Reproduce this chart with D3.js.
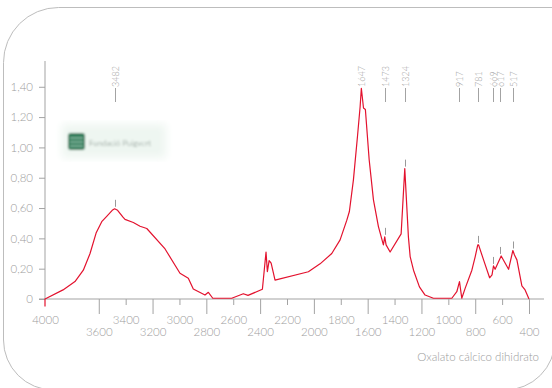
<!DOCTYPE html>
<html>
<head>
<meta charset="utf-8">
<script src="https://cdn.jsdelivr.net/npm/d3@7"></script>
<style>
  body { margin: 0; background: #fff; }
  svg text { font-family: Lato, "Open Sans", sans-serif; font-weight: 300; }
</style>
</head>
<body>
<script>
const width = 552;
const height = 388;

// espectro IR (numero de onda, absorbancia)
const wavenumbers = [4000, 4000, 3866, 3777, 3715, 3665, 3620, 3578, 3541, 3500, 3482, 3460, 3420, 3405,
  3343, 3293, 3243, 3107, 2996, 2934, 2897, 2810, 2785, 2752, 2611, 2525, 2490, 2383, 2356, 2346,
  2333, 2318, 2289, 2041, 1954, 1867, 1805, 1755, 1736, 1706, 1676, 1656, 1647, 1631, 1617, 1589,
  1557, 1520, 1483, 1473, 1463, 1433, 1351, 1324, 1297, 1284, 1259, 1215, 1173, 1111, 974, 937,
  917, 900, 875, 825, 800, 781, 775, 738, 693, 675, 664, 652, 607, 552, 520, 508, 490, 453, 429, 400];
const absorbance = [-0.05, 0, 0.06, 0.115, 0.19, 0.30, 0.435, 0.51, 0.545, 0.585, 0.595, 0.585, 0.54, 0.525,
  0.505, 0.48, 0.465, 0.33, 0.17, 0.137, 0.066, 0.026, 0.044, 0.005, 0.005, 0.035, 0.024, 0.064, 0.31, 0.18,
  0.253, 0.236, 0.125, 0.18, 0.232, 0.30, 0.39, 0.52, 0.577, 0.786, 1.07, 1.27, 1.39, 1.26, 1.25, 0.92,
  0.654, 0.478, 0.357, 0.41, 0.357, 0.31, 0.43, 0.86, 0.41, 0.28, 0.19, 0.08, 0.026, 0.005, 0.005, 0.048,
  0.115, 0.005, 0.07, 0.19, 0.28, 0.357, 0.357, 0.258, 0.14, 0.159, 0.218, 0.196, 0.284, 0.196, 0.32, 0.29, 0.258, 0.086, 0.06, 0];

const peaks = [3482, 1647, 1473, 1324, 917, 781, 669, 617, 517];
const peakMarked = [true, false, true, true, false, true, true, true, true];

const yTicks = [0, 0.2, 0.4, 0.6, 0.8, 1.0, 1.2, 1.4];
const xTicksUpper = [4000, 3400, 3000, 2600, 2200, 1800, 1400, 1000, 600];
const xTicksLower = [3600, 3200, 2800, 2400, 2000, 1600, 1200, 800, 400];
const title = 'Oxalato cálcico dihidrato';

const data = wavenumbers.map((w, i) => ({w: w, a: absorbance[i]}));

const svg = d3.select('body')
  .append('svg')
  .attr('width', width)
  .attr('height', height);

const defs = svg.append('defs');
defs.append('filter').attr('id', 'blur')
  .append('feGaussianBlur').attr('stdDeviation', 1.1);
defs.append('filter').attr('id', 'blur2')
  .append('feGaussianBlur').attr('stdDeviation', 4);

// marco: esquinas redondeadas salvo la superior derecha (fuera de la imagen)
const frame = d3.path();
const L = 3.5, T = 7.5, R = 555, B = 390, r1 = 55, r2 = 50;
frame.moveTo(L + r1, T);
frame.lineTo(R + 20, T);
frame.moveTo(R, T + 30);
frame.lineTo(R, B - r2);
frame.arcTo(R, B, R - r2, B, r2);
frame.lineTo(L + r2, B);
frame.arcTo(L, B, L, B - r2, r2);
frame.lineTo(L, T + r1);
frame.arcTo(L, T, L + r1, T, r1);
svg.append('path')
  .attr('d', frame.toString())
  .attr('fill', 'none')
  .attr('stroke', '#bdbdbd')
  .attr('stroke-width', 1);

const x = d3.scaleLinear().domain([4000, 400]).range([45, 529]);
const y = d3.scaleLinear().domain([0, 1.57]).range([299, 61]);

// marca de agua (logo difuminado)
const logo = svg.append('g').attr('filter', 'url(#blur)');
logo.append('rect').attr('x', 62).attr('y', 124).attr('width', 104).attr('height', 34)
  .attr('fill', '#eef6f1').attr('filter', 'url(#blur2)');
logo.append('rect').attr('x', 68).attr('y', 133).attr('width', 17).attr('height', 17)
  .attr('rx', 3).attr('fill', '#2f7a58');
[138, 142, 146].forEach(yy => {
  logo.append('line').attr('x1', 70).attr('x2', 83).attr('y1', yy).attr('y2', yy)
    .attr('stroke', '#bfe0cf').attr('stroke-width', 1);
});
logo.append('text').attr('x', 89).attr('y', 146)
  .attr('font-size', 8).attr('fill', '#6f7f77')
  .text('Fundació Puigvert');

const grey = '#a3a3a3';
const textGrey = '#9c9c9c';

// eje y
svg.append('line')
  .attr('x1', x(4000)).attr('x2', x(4000))
  .attr('y1', y(1.57)).attr('y2', y(0))
  .attr('stroke', grey);

const yAxis = svg.append('g')
  .attr('transform', `translate(${x(4000)},0)`)
  .call(d3.axisLeft(y).tickValues(yTicks).tickSize(6).tickPadding(6)
    .tickFormat(d => d === 0 ? '0' : d.toFixed(2).replace('.', ',')));
yAxis.select('.domain').remove();
yAxis.selectAll('line').attr('stroke', grey);
yAxis.selectAll('text').attr('fill', textGrey).attr('font-size', 11.5)
  .style('font-family', 'Lato, sans-serif').style('font-weight', 300);

// eje x
svg.append('line')
  .attr('x1', 39).attr('x2', 544)
  .attr('y1', y(0)).attr('y2', y(0))
  .attr('stroke', grey);

const xUpper = svg.append('g')
  .attr('transform', `translate(0,${y(0)})`)
  .call(d3.axisBottom(x).tickValues(xTicksUpper).tickSize(6).tickPadding(11).tickFormat(d3.format('d')));
xUpper.select('.domain').remove();
xUpper.selectAll('line').attr('stroke', grey).attr('opacity', d => d === 4000 ? 0 : 1);
xUpper.selectAll('text').attr('fill', textGrey).attr('font-size', 11.5)
  .style('font-family', 'Lato, sans-serif').style('font-weight', 300);

const xLower = svg.append('g')
  .attr('transform', `translate(0,${y(0)})`)
  .call(d3.axisBottom(x).tickValues(xTicksLower).tickSize(15).tickPadding(14).tickFormat(d3.format('d')));
xLower.select('.domain').remove();
xLower.selectAll('line').attr('stroke', grey);
xLower.selectAll('text').attr('fill', textGrey).attr('font-size', 11.5)
  .style('font-family', 'Lato, sans-serif').style('font-weight', 300)
  .attr('y', 29);

svg.append('text')
  .attr('x', 539).attr('y', 361)
  .attr('text-anchor', 'end')
  .attr('font-size', 11.5)
  .attr('fill', textGrey)
  .text(title);

// espectro
svg.append('path')
  .datum(data)
  .attr('fill', 'none')
  .attr('stroke', '#e3122e')
  .attr('stroke-width', 1.2)
  .attr('stroke-linejoin', 'round')
  .attr('d', d3.line().x(d => x(d.w)).y(d => y(d.a)));

// etiquetas de picos
function peakValue(p) {
  return d3.max(data.filter(d => Math.abs(d.w - p) <= 12), d => d.a);
}

const peakG = svg.append('g');
peaks.forEach((p, i) => {
  const px = Math.round(x(p)) + 0.5;
  peakG.append('text')
    .attr('transform', `translate(${px + 3},87) rotate(-90)`)
    .attr('font-size', 9)
    .attr('fill', textGrey)
    .text(p);
  if (p !== 1647) {
    peakG.append('line')
      .attr('x1', px).attr('x2', px)
      .attr('y1', 88).attr('y2', 102)
      .attr('stroke', grey);
  }
  if (peakMarked[i]) {
    const top = y(peakValue(p)) - 2;
    peakG.append('line')
      .attr('x1', px).attr('x2', px)
      .attr('y1', top - 7).attr('y2', top)
      .attr('stroke', '#999');
  }
});
</script>
</body>
</html>
